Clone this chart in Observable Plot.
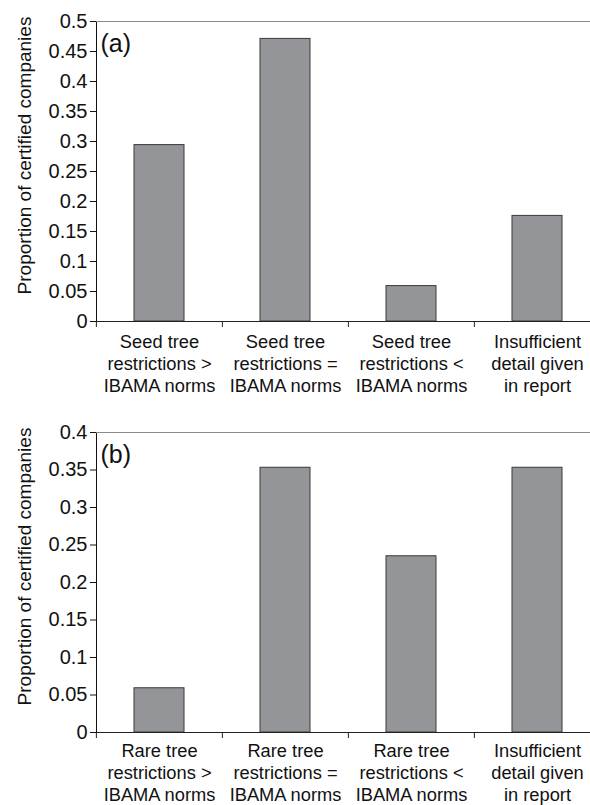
<!DOCTYPE html>
<html>
<head>
<meta charset="utf-8">
<script src="https://cdn.jsdelivr.net/npm/d3@7"></script>
<script src="https://cdn.jsdelivr.net/npm/@observablehq/plot@0.6"></script>
<style>
  html, body { margin: 0; padding: 0; background: #fff; overflow: hidden; }
  #chart svg { display: block; max-width: none; }
</style>
</head>
<body>
<div id="chart"></div>
<script>
// ---- data ----
const categoriesA = [
  "Seed tree\nrestrictions >\nIBAMA norms",
  "Seed tree\nrestrictions =\nIBAMA norms",
  "Seed tree\nrestrictions <\nIBAMA norms",
  "Insufficient\ndetail given\nin report"
];
const valuesA = [0.294, 0.471, 0.059, 0.176];
const yTicksA = [0, 0.05, 0.1, 0.15, 0.2, 0.25, 0.3, 0.35, 0.4, 0.45, 0.5];

const categoriesB = [
  "Rare tree\nrestrictions >\nIBAMA norms",
  "Rare tree\nrestrictions =\nIBAMA norms",
  "Rare tree\nrestrictions <\nIBAMA norms",
  "Insufficient\ndetail given\nin report"
];
const valuesB = [0.059, 0.353, 0.235, 0.353];
const yTicksB = [0, 0.05, 0.1, 0.15, 0.2, 0.25, 0.3, 0.35, 0.4];

const yTitle = "Proportion of certified companies";
const panelTags = ["(a)", "(b)"];

// ---- drawing ----
const FONT = "'Liberation Sans', Arial, Helvetica, sans-serif";
const W = 590, ML = 96, MR = -11;
const step = (W - ML - MR) / 4;

function panel(cats, vals, ticks, tag, height, mt, mb, labelDy) {
  const data = cats.map((c, i) => ({cat: c, value: vals[i]}));
  const yMax = ticks[ticks.length - 1];
  return Plot.plot({
    width: W,
    height,
    marginLeft: ML,
    marginRight: MR,
    marginTop: mt,
    marginBottom: mb,
    style: {fontFamily: FONT, fontSize: "20px", color: "#111", background: "#fff", overflow: "visible"},
    x: {domain: cats, paddingInner: 0.6, paddingOuter: 0.3, axis: null},
    y: {
      domain: [0, yMax],
      ticks: ticks,
      tickFormat: d => String(+(+d).toFixed(2)),
      tickSize: 6,
      tickPadding: 3,
      line: true,
      label: null,
      nice: false
    },
    marks: [
      Plot.ruleY([yMax], {stroke: "#8a8a8a", strokeWidth: 1}),
      Plot.barY(data, {x: "cat", y: "value", fill: "#939598", stroke: "#3a3a3a", strokeWidth: 1}),
      Plot.ruleY([0], {stroke: "#222", strokeWidth: 1.2}),
      Plot.ruleX(cats, {x: d => d, y1: () => 0, y2: () => 0, insetBottom: -6, dx: -step / 2, stroke: "#222"}),
      Plot.text(cats, {x: d => d, y: () => 0, text: d => d, dy: labelDy, lineAnchor: "middle", lineHeight: 1.2, fontSize: 18.3, fill: "#111"}),
      Plot.text([yTitle], {text: d => d, frameAnchor: "left", textAnchor: "middle", rotate: -90, dx: -72, dy: -16, fontSize: 19, fill: "#111"}),
      Plot.text([tag], {text: d => d, frameAnchor: "top-left", textAnchor: "start", lineAnchor: "middle", dx: 4, dy: 22, fontSize: 25, fill: "#111"})
    ]
  });
}

const root = document.getElementById("chart");
root.appendChild(panel(categoriesA, valuesA, yTicksA, panelTags[0], 400, 21, 79, 41.5));
root.appendChild(panel(categoriesB, valuesB, yTicksB, panelTags[1], 405, 32, 73, 39.5));
</script>
</body>
</html>
